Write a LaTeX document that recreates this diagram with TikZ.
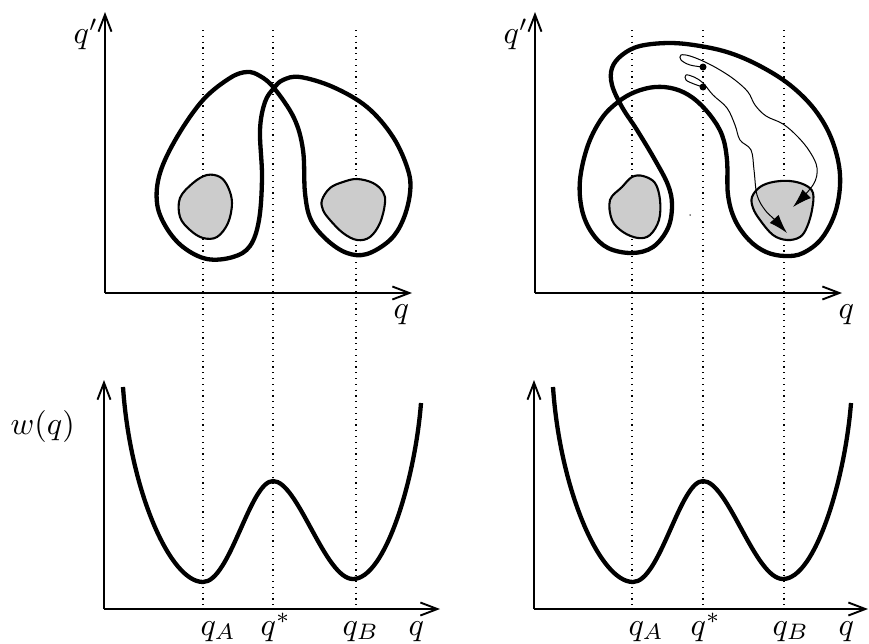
\documentclass[tikz,border=0pt]{standalone}
\usetikzlibrary{arrows.meta}
\begin{document}
\begin{tikzpicture}[x=1pt,y=-1pt,
  thickcurve/.style={line width=4.3pt,line join=round},
  blob/.style={draw,fill=black!20,line width=2.1pt},
  axis/.style={line width=1.9pt,-{Straight Barb[length=17pt,width=13pt]}},
  guide/.style={line width=1.2pt,dash pattern=on 1.2pt off 4.6pt},
  traj/.style={line width=1pt},
  trajarrow/.style={traj,-{Latex[length=19pt,width=12pt]}},
  lab/.style={scale=3.2,inner sep=0pt,anchor=base west}]
\useasboundingbox (0,0) rectangle (869,643);

% ---------- axis coordinates ----------
\coordinate (o1) at (105,293); \coordinate (y1) at (105,12);  \coordinate (x1) at (412,293);
\coordinate (o2) at (535,293); \coordinate (y2) at (535,12);  \coordinate (x2) at (842,293);
\coordinate (o3) at (104,609); \coordinate (y3) at (104,380); \coordinate (x3) at (440,609);
\coordinate (o4) at (534,609); \coordinate (y4) at (534,380); \coordinate (x4) at (868,609);

% ---------- dotted guides ----------
\foreach \gx [count=\i] in {203,273,356,632,703,784}{
  \coordinate (gt\i) at (\gx,30); \coordinate (gb\i) at (\gx,608);
  \draw[guide] (gt\i) -- (gb\i);
}

% ---------- axes ----------
\draw[axis] (o1) -- (y1); \draw[axis] (o1) -- (x1);
\draw[axis] (o2) -- (y2); \draw[axis] (o2) -- (x2);
\draw[axis] (o3) -- (y3); \draw[axis] (o3) -- (x3);
\draw[axis] (o4) -- (y4); \draw[axis] (o4) -- (x4);

% ---------- top-left: figure eight ----------
\draw[thickcurve] plot[smooth cycle,tension=0.6] coordinates {
  (274,88) (283,80) (300,77) (333,87) (367,107) (393,137) (408,170) (410,193)
  (403,220) (390,240) (367,254) (347,253) (327,240) (311,220) (305,193)
  (303,150) (294,118) (274,88) (260,76) (247,72) (230,78) (203,100)
  (177,137) (160,173) (157,203) (166,227) (183,247) (207,259) (233,257)
  (250,246) (259,220) (262,177) (260,130) (265,102)};

\draw[blob] plot[smooth cycle,tension=0.6] coordinates {
  (180,198) (193,183) (207,175) (220,177) (228,187) (232,203) (228,223)
  (217,237) (203,238) (190,230) (180,217)};
\draw[blob] plot[smooth cycle,tension=0.6] coordinates {
  (322,200) (330,188) (343,182) (357,179) (373,183) (383,192) (385,203)
  (380,223) (370,237) (357,240) (343,233) (330,220) (323,210)};

% ---------- top-right: deformed curve ----------
\draw[thickcurve] plot[smooth cycle,tension=0.6] coordinates {
  (632,253) (653,247) (668,228) (672,205) (668,185) (655,160) (637,130)
  (622,107) (612,85) (612,68) (622,55) (640,46) (670,43) (700,46) (730,53)
  (760,66) (790,85) (815,110) (832,140) (840,175) (836,210) (822,238)
  (803,253) (785,256) (766,252) (749,240) (735,220) (728,195) (727,160)
  (722,135) (710,115) (693,98) (675,89) (655,87) (635,92) (618,102)
  (602,118) (588,145) (580,180) (582,210) (592,233) (608,248)};

\draw[blob] plot[smooth cycle,tension=0.6] coordinates {
  (610,200) (622,187) (632,177) (643,176) (655,183) (660,200) (659,220)
  (650,235) (638,238) (623,232) (612,220)};
\draw[blob] plot[smooth cycle,tension=0.6] coordinates {
  (752,197) (760,187) (773,182) (790,181) (805,185) (813,193) (812,210)
  (807,227) (800,237) (787,240) (773,235) (760,220) (753,208)};

% trajectories
\draw[trajarrow] plot[smooth,tension=0.6] coordinates {
  (703,67) (690,65) (681,60) (681,55) (690,56) (705,62) (720,70) (735,80)
  (748,92) (755,105) (766,116) (783,124) (798,137) (810,152) (817,168)
  (813,185) (793,207)};
\draw[trajarrow] plot[smooth,tension=0.6] coordinates {
  (703,87) (694,84) (686,80) (686,75) (694,77) (703,83) (713,95) (727,108)
  (735,125) (740,140) (751,150) (754,170) (757,195) (765,210) (775,220)
  (787,233)};
\node[circle,fill,inner sep=0pt,minimum size=7pt] (d1) at (703,67) {};
\node[circle,fill,inner sep=0pt,minimum size=7pt] (d2) at (703,87) {};
\node[circle,fill,inner sep=0pt,minimum size=1.5pt] (d3) at (690,215) {};

% ---------- potentials ----------
\foreach \s in {0,430}{
  \begin{scope}[xshift=\s pt]
  \draw[thickcurve] (123,387) .. controls (130,490) and (170,582) .. (203,582)
    .. controls (230,582) and (250,481) .. (273,481)
    .. controls (298,481) and (325,579) .. (353,579)
    .. controls (385,579) and (415,480) .. (421,403);
  \end{scope}
}

% ---------- labels ----------
\node[lab] (lqp1) at (73,43) {$q'$};
\node[lab] (lqp2) at (503,43) {$q'$};
\node[lab] (lq1) at (393,318) {$q$};
\node[lab] (lq2) at (838,318) {$q$};
\node[lab] (lw) at (10,434) {$w(q)$};
\node[lab] (la1) at (200,635) {$q_A$};
\node[lab] (ls1) at (260,635) {$q^*$};
\node[lab] (lb1) at (342,635) {$q_B$};
\node[lab] (lq3) at (408,635) {$q$};
\node[lab] (la2) at (628,635) {$q_A$};
\node[lab] (ls2) at (690,635) {$q^*$};
\node[lab] (lb2) at (772,635) {$q_B$};
\node[lab] (lq4) at (838,635) {$q$};
\end{tikzpicture}
\end{document}
